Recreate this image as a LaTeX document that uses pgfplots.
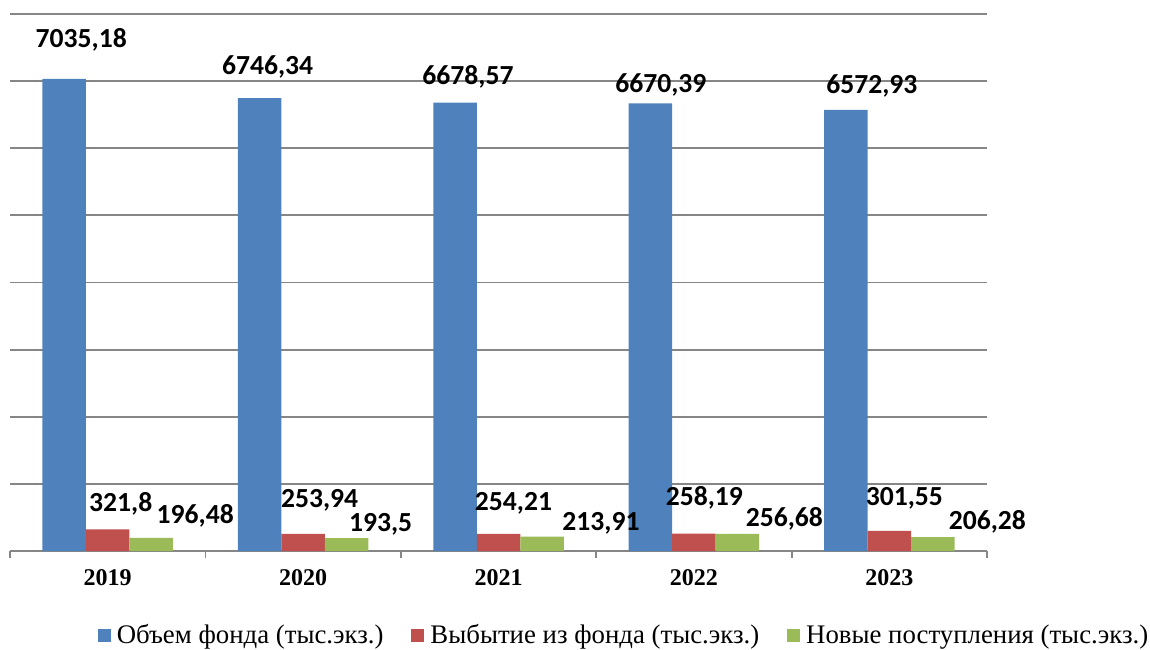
\documentclass[border=0pt]{standalone}
\usepackage{pgfplots}
\pgfplotsset{compat=1.18}
\usepackage{pgfplotstable}
\usepackage{fontspec}
\setmainfont{Liberation Serif}
\newfontfamily\calibri{Carlito}
\definecolor{cblue}{HTML}{4F81BD}
\definecolor{cred}{HTML}{C0504D}
\definecolor{cgreen}{HTML}{9BBB59}
\definecolor{cgrid}{HTML}{868686}

\pgfplotstableread{
x y lab dx dy
0 7035.18 7035,18 8.5 20.25
1 6746.34 6746,34 4 16
2 6678.57 6678,57 6.5 13.5
3 6670.39 6670,39 5.25 10
4 6572.93 6572,93 13 12.35
}\tblA
\pgfplotstableread{
x y lab dx dy
0 321.8 321,8 6.5 13.25
1 253.94 253,94 8.25 17.5
2 254.21 254,21 7.5 16
3 258.19 258,19 5.25 18.25
4 301.55 301,55 7.5 17
}\tblB
\pgfplotstableread{
x y lab dx dy
0 196.48 196,48 22 11.5
1 193.5 193,5 17 7.5
2 213.91 213,91 29.5 7.25
3 256.68 256,68 23.5 8.25
4 206.28 206,28 27.25 8.25
}\tblC

\begin{document}
\begin{tikzpicture}
\begin{axis}[
  name=ax,
  scale only axis,
  width=488.5pt, height=268.5pt,
  ybar=0pt, bar width=21.75pt,
  xmin=-0.5, xmax=4.5,
  ymin=0, ymax=8000,
  ytick={0,1000,...,8000},
  yticklabels={},
  ymajorgrids,
  grid style={cgrid, line width=0.9pt},
  axis x line*=bottom,
  axis y line*=left,
  y axis line style={draw=none},
  x axis line style={cgrid, line width=0.9pt},
  ytick style={draw=none},
  xtick={0,1,2,3,4},
  xticklabels={2019,2020,2021,2022,2023},
  major tick length=0pt,
  xticklabel style={font=\fontsize{12}{14}\selectfont\bfseries, yshift=-5.5pt},
  extra x ticks={-0.5,0.5,1.5,2.5,3.5,4.5},
  extra x tick labels={},
  extra x tick style={major tick length=3.5pt, tick align=outside, tick style={cgrid, line width=0.9pt}},
  point meta=explicit symbolic,
  nodes near coords,
  nodes near coords style={font=\calibri\bfseries\fontsize{13.8}{16}\selectfont, anchor=base, inner sep=0pt},
  visualization depends on={\thisrow{dx} \as \dx},
  visualization depends on={\thisrow{dy} \as \dy},
  every node near coord/.append style={xshift={\dx}, yshift={\dy-4.4}},
  legend columns=3,
  legend style={at={(0.629,-0.158)}, anchor=center, draw=none, fill=none,
    font=\fontsize{13.4}{15}\selectfont,
    /tikz/every even column/.append style={column sep=12.5pt},
    nodes={inner sep=1.5pt}},
  legend image code/.code={\path[#1,draw=none] (0pt,-3.25pt) rectangle (6.5pt,3.25pt); \path (8pt,0pt);},
  clip=false,
]
\addplot[fill=cblue, draw=none] table[x=x, y=y, meta=lab] {\tblA};
\addplot[fill=cred, draw=none] table[x=x, y=y, meta=lab] {\tblB};
\addplot[fill=cgreen, draw=none] table[x=x, y=y, meta=lab] {\tblC};
\legend{Объем фонда (тыс.экз.), Выбытие из фонда (тыс.экз.), Новые поступления (тыс.экз.)}
\end{axis}
\pgfresetboundingbox
\path[use as bounding box] ([shift={(-5pt,-49pt)}]ax.south west) rectangle ([shift={(570pt,275.5pt)}]ax.south west);
\end{tikzpicture}
\end{document}
